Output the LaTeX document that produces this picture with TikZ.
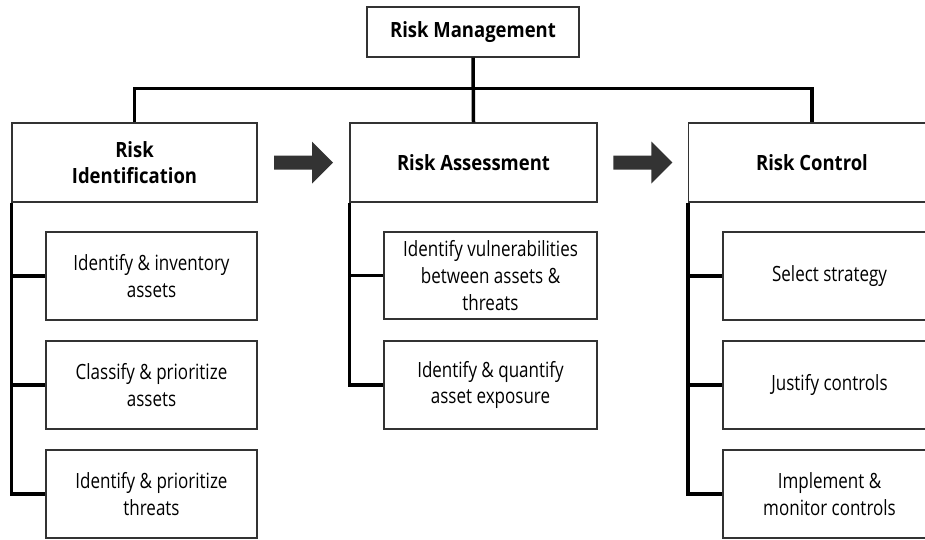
\documentclass[tikz,border=0pt]{standalone}
\usepackage{fontspec}
\setmainfont{Open Sans}[FakeStretch=0.81, BoldFeatures={FakeStretch=0.88}]
\usetikzlibrary{calc}
\definecolor{boxline}{HTML}{333333}
\definecolor{arrowfill}{HTML}{333333}
\begin{document}
\begin{tikzpicture}[x=1pt,y=-1pt,
  box/.style={draw=boxline, line width=1.3pt, fill=white, align=center,
    inner sep=0pt, font=\fontsize{21}{26.7}\selectfont},
  headbox/.style={box, minimum height=79pt,
    font=\bfseries\fontsize{21}{26.7}\selectfont},
  subbox/.style={box, minimum height=88pt},
  tree/.style={line width=3.5pt, black},
  blockarrow/.style={fill=arrowfill}]
\useasboundingbox (0,0) rectangle (925,539);
\clip (0,0) rectangle (925,539);

% top of the hierarchy
\node[box, minimum width=212pt, minimum height=50pt,
  font=\bfseries\fontsize{21}{26.7}\selectfont] (rm) at (473,32) {Risk Management};

% three phases
\node[headbox, minimum width=245pt] (ri) at (134.5,162.5) {Risk\\Identification};
\node[headbox, minimum width=247pt] (ra) at (473.5,162.5) {Risk Assessment};
\node[headbox, minimum width=247pt] (rc) at (812,162.5) {Risk Control};

% tasks of each phase
\node[subbox, minimum width=211pt] (s11) at (151.5,276) {Identify \& inventory\\assets};
\node[subbox, minimum width=211pt] (s12) at (151.5,385) {Classify \& prioritize\\assets};
\node[subbox, minimum width=211pt] (s13) at (151.5,494) {Identify \& prioritize\\threats};

\node[subbox, minimum width=213pt, minimum height=87pt] (s21) at (490.5,275.5) {Identify vulnerabilities\\between assets \&\\threats};
\node[subbox, minimum width=213pt] (s22) at (490.5,385) {Identify \& quantify\\asset exposure};

\node[subbox, minimum width=213pt] (s31) at (829.5,276) {Select strategy};
\node[subbox, minimum width=213pt] (s32) at (829.5,385) {Justify controls};
\node[subbox, minimum width=213pt] (s33) at (829.5,494) {Implement \&\\monitor controls};

% bus from the top box to the phases
\draw[tree] (rm.south) -- (ra.north);
\draw[tree] (ri.north) -- ++(0,-34) -| (rc.north);

% spines and branches
\draw[tree] (ri.south west) |- (s13.west);
\draw[tree] (ri.south west |- s11.west) -- (s11.west);
\draw[tree] (ri.south west |- s12.west) -- (s12.west);

\draw[tree] (ra.south west) |- (s22.west);
\draw[tree] (ra.south west |- s21.west) -- (s21.west);

\draw[tree] (rc.south west) |- (s33.west);
\draw[tree] (rc.south west |- s31.west) -- (s31.west);
\draw[tree] (rc.south west |- s32.west) -- (s32.west);

% block arrows between the phases
\coordinate (a1) at ($(ri.east)!0.5!(ra.west)$);
\coordinate (a2) at ($(ra.east)!0.5!(rc.west)$);
\foreach \c in {a1,a2}
  \fill[blockarrow, shift={(\c)}] (-29.5,-7) -- (8.5,-7) -- (8.5,-21) -- (29.5,0)
    -- (8.5,21) -- (8.5,7) -- (-29.5,7) -- cycle;
\end{tikzpicture}
\end{document}
